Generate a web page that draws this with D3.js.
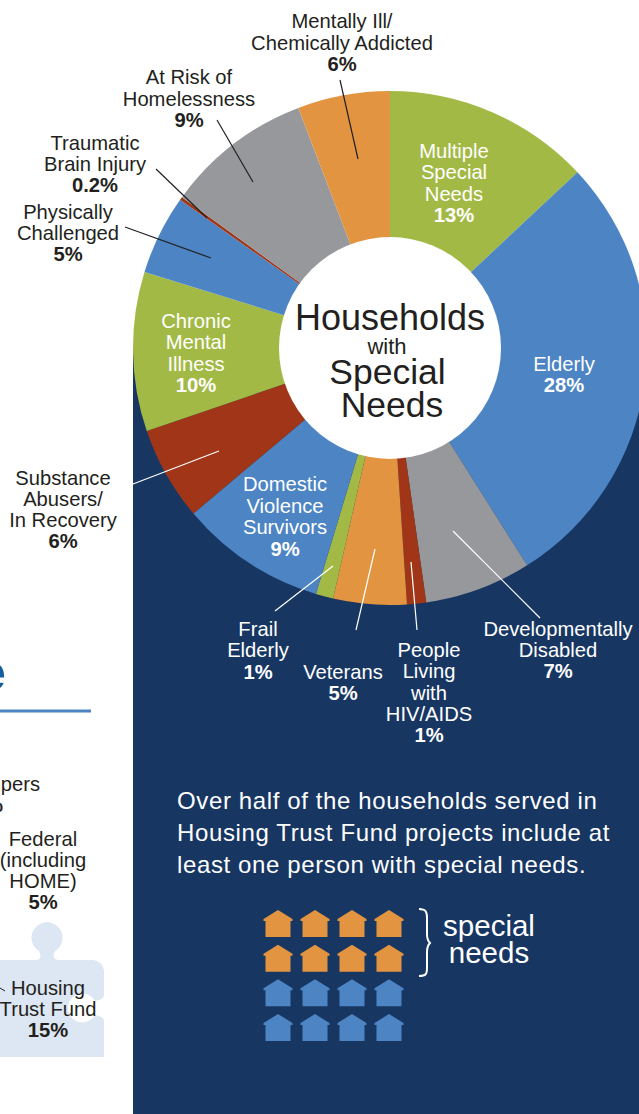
<!DOCTYPE html>
<html><head><meta charset="utf-8">
<script src="https://cdnjs.cloudflare.com/ajax/libs/d3/7.8.5/d3.min.js"></script>
<style>html,body{margin:0;padding:0;background:#fff;overflow:hidden}svg{display:block}text{font-family:"Liberation Sans",Arial,sans-serif}</style>
</head><body><svg id="c" width="639" height="1114"></svg>
<script>
const categories = ["Multiple Special Needs","Elderly","Developmentally Disabled","People Living with HIV/AIDS","Veterans","Frail Elderly","Domestic Violence Survivors","Substance Abusers/In Recovery","Chronic Mental Illness","Physically Challenged","Traumatic Brain Injury","At Risk of Homelessness","Mentally Ill/Chemically Addicted"];
const shares = [13,28,6.7,1.2,4.6,1.1,9.2,5.9,10,5,0.2,9.2,5.8];
const sliceColors = ["#a3b945","#4c84c4","#97989b","#a03617","#e39440","#a3b945","#4c84c4","#a03617","#a3b945","#4c84c4","#a03617","#97989b","#e39440"];

const DARK="#231f20", NAVY="#173662", WHITE="#fff";
// label layout: [lines, percent, centre x, first baseline, line step, colour]
const labels = [
 [["Mentally Ill/","Chemically Addicted"],"6%",342,28,21.5,DARK],
 [["At Risk of","Homelessness"],"9%",189,84,21.5,DARK],
 [["Traumatic","Brain Injury"],"0.2%",95,150,21,DARK],
 [["Physically","Challenged"],"5%",68,219,21,DARK],
 [["Multiple","Special","Needs"],"13%",454,158,21.3,WHITE],
 [["Elderly"],"28%",564,371,21,WHITE],
 [["Chronic","Mental","Illness"],"10%",196,328,21.3,WHITE],
 [["Substance","Abusers/","In Recovery"],"6%",63,485,21,DARK],
 [["Domestic","Violence","Survivors"],"9%",285,491,21.5,WHITE],
 [["Frail","Elderly"],"1%",258,635.5,21.5,WHITE],
 [["Veterans"],"5%",343,679,21,WHITE],
 [["People","Living","with","HIV/AIDS"],"1%",429,657,21.25,WHITE],
 [["Developmentally","Disabled"],"7%",558,636,21,WHITE],
 [["Federal","(including","HOME)"],"5%",43,845.5,21.3,DARK],
 [["Housing","Trust Fund"],"15%",48,995,21,DARK]
];
const leaders = [
 [340,80,358,159,DARK],[217,120,253,182,DARK],[156,169,207,218,DARK],[125,227,211,258,DARK],
 [133,484,219,451,WHITE],[275,611,333,566,WHITE],[356,630,375,549,WHITE],[417,630,411,562,WHITE],[540,618,453,531,WHITE]
];
const houseRows = ["#e39440","#e39440","#4c84c4","#4c84c4"];
const houseCols = [0,1,2,3];
const paragraph = ["Over half of the households served in","Housing Trust Fund projects include at","least one person with special needs."];

const svg = d3.select("#c");
// navy panel
svg.append("rect").attr("x",133).attr("y",348).attr("width",506).attr("height",766).attr("fill",NAVY);

// left fragments
svg.append("rect").attr("x",0).attr("y",709.5).attr("width",91).attr("height",3).attr("fill","#4c84c4");
svg.append("text").attr("x",6).attr("y",690).attr("text-anchor","end").attr("font-size",52).attr("font-weight","bold").attr("fill","#14609f").text("e");
svg.append("text").attr("x",40).attr("y",791).attr("text-anchor","end").attr("font-size",20.2).attr("fill",DARK).text("pers");
svg.append("text").attr("x",3).attr("y",812).attr("text-anchor","end").attr("font-size",20).attr("font-weight","bold").attr("fill",DARK).text("%");
// puzzle piece
svg.append("path").attr("fill","#dde6f3")
 .attr("d","M0,960 L36,960 C40,960 42,957 39,951 A15.5,15.5 0 1 1 55,951 C52,957 54,960 60,960 L92,960 A12,12 0 0 1 104,972 L104,995 C104,999 99,1000 95,1001 A14.5,14.5 0 1 0 95,1015 C99,1016 104,1017 104,1021 L104,1057 L0,1057 Z");
svg.append("line").attr("x1",0).attr("y1",988).attr("x2",5).attr("y2",991).attr("stroke",DARK).attr("stroke-width",1);

// donut
const cx=390, cy=348;
const pie=d3.pie().sort(null).value(d=>d);
const arc=d3.arc().innerRadius(0).outerRadius(257);
const g=svg.append("g").attr("transform",`translate(${cx},${cy})`);
g.selectAll("path").data(pie(shares)).join("path").attr("d",arc).attr("fill",(d,i)=>sliceColors[i]);
g.append("circle").attr("r",111).attr("fill","#fff");

// leaders
svg.selectAll("line.l").data(leaders).join("line").attr("class","l")
 .attr("x1",d=>d[0]).attr("y1",d=>d[1]).attr("x2",d=>d[2]).attr("y2",d=>d[3])
 .attr("stroke",d=>d[4]).attr("stroke-width",1.2);

// labels
labels.forEach(([lines,pct,x,y,step,col])=>{
  const t=svg.append("text").attr("text-anchor","middle").attr("fill",col).attr("font-size",20.2);
  lines.forEach((s,i)=>t.append("tspan").attr("x",x).attr("y",y+i*step).text(s));
  t.append("tspan").attr("x",x).attr("y",y+lines.length*step).attr("font-weight","bold").text(pct);
});

// centre title
[["Households",390,330,36],["with",387,354,22],["Special",387.5,384,35.5],["Needs",392,417,35.5]].forEach(([s,x,y,f])=>{
  svg.append("text").attr("x",x).attr("y",y).attr("text-anchor","middle").attr("font-size",f).attr("fill",DARK).text(s);
});

// paragraph
paragraph.forEach((s,i)=>svg.append("text").attr("x",177).attr("y",809+i*32).attr("font-size",24).attr("letter-spacing",0.62).attr("fill",WHITE).text(s));

// houses
const hx=d3.scalePoint().domain(houseCols).range([278,389]);
const hy=d3.scalePoint().domain(d3.range(houseRows.length)).range([910,1014]);
const houseShape="M0,0 L14.5,9 L14.5,11 L12.5,11 L12.5,27 L-12.5,27 L-12.5,11 L-14.5,11 L-14.5,9 Z";
houseRows.forEach((c,r)=>houseCols.forEach(k=>{
  svg.append("path").attr("d",houseShape).attr("transform",`translate(${hx(k)},${hy(r)})`).attr("fill",c);
}));
// brace
svg.append("path").attr("d","M419,909 C426,909 427,912 427,918 L427,934 C427,939 428,941 430,943 C428,945 427,947 427,952 L427,968 C427,974 426,976 419,976")
 .attr("fill","none").attr("stroke",WHITE).attr("stroke-width",2);
svg.append("text").attr("x",489).attr("y",936).attr("text-anchor","middle").attr("font-size",29.5).attr("fill",WHITE).text("special");
svg.append("text").attr("x",489).attr("y",963).attr("text-anchor","middle").attr("font-size",29.5).attr("fill",WHITE).text("needs");
</script></body></html>
